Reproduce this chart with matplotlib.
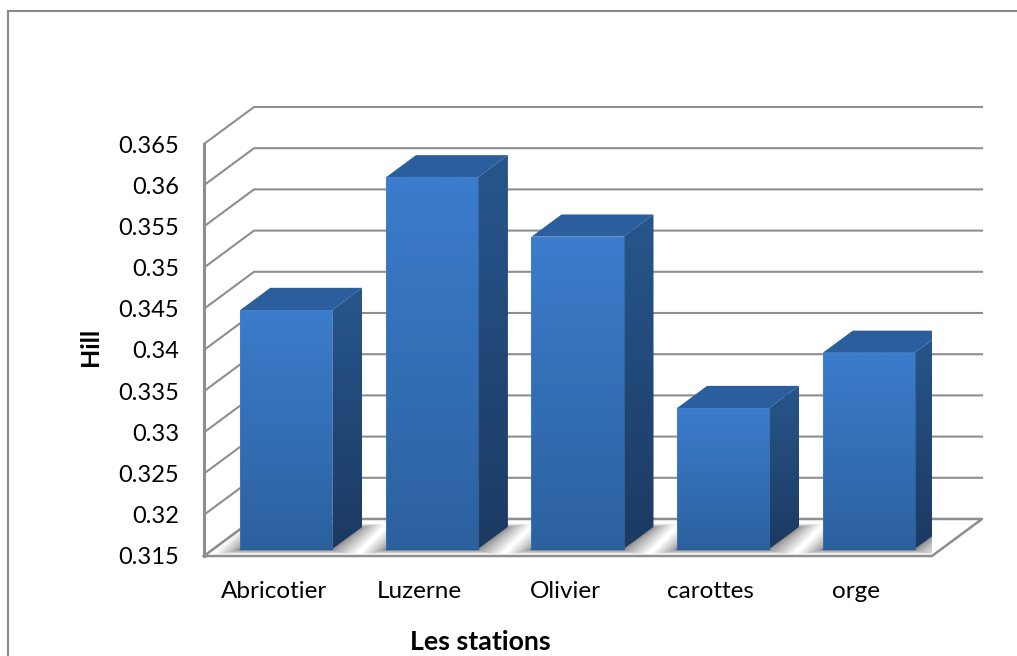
import numpy as np
import matplotlib
matplotlib.use('Agg')
import matplotlib.pyplot as plt
from matplotlib.lines import Line2D
from matplotlib.patches import Polygon
from matplotlib.transforms import Affine2D, IdentityTransform

stations = ['Abricotier', 'Luzerne', 'Olivier', 'carottes', 'orge']
hill = [0.3440, 0.3601, 0.3529, 0.3321, 0.3388]
yticks = [0.315, 0.32, 0.325, 0.33, 0.335, 0.34, 0.345, 0.35, 0.355, 0.36, 0.365]
ylabels = ['0.315', '0.32', '0.325', '0.33', '0.335', '0.34', '0.345', '0.35', '0.355', '0.36', '0.365']

W, H = 1017, 656
DX, DY = 50, 37        # 3d depth of the floor, in pixels
BAR_W = 0.632          # in category units
D0, D1 = 0.19, 0.79    # where the bars sit in the depth
PX = IdentityTransform()

plt.rcParams['font.family'] = ['Lato', 'DejaVu Sans']
fig = plt.figure(figsize=(W / 100, H / 100), dpi=100)
ax = fig.add_axes([204 / W, 1 - 556 / H, (932 - 204) / W, (556 - 144) / H])
ax.patch.set_alpha(0)
for s in ax.spines.values():
    s.set_visible(False)

x0, x1 = -0.5, 4.5
ymin, ymax = yticks[0], yticks[-1]
ax.set_xlim(x0, x1)
ax.set_ylim(ymin, ymax)
ax.set_autoscale_on(False)


def at(d):
    # shift towards the back wall
    return ax.transData + Affine2D().translate(DX * d, DY * d)


def skew_pts(x, y, d):
    # data point -> display point at depth d
    return at(d).transform((x, y))


def gradient(pts, c_top, c_bot, z):
    # vertical colour ramp clipped to a polygon (display coords)
    pts = np.array(pts)
    ramp = np.linspace(0, 1, 64)[:, None, None]
    img = (1 - ramp) * np.array(c_top) + ramp * np.array(c_bot)
    im = ax.imshow(img, aspect='auto', zorder=z, transform=PX,
                   extent=[pts[:, 0].min(), pts[:, 0].max(), pts[:, 1].min(), pts[:, 1].max()],
                   origin='upper', interpolation='bilinear')
    im.set_clip_path(Polygon(pts, closed=True, transform=PX))


def rgb(h):
    return matplotlib.colors.to_rgb(h)


def px_line(xs, ys, **kw):
    ln = Line2D(xs, ys, transform=PX, clip_on=False, **kw)
    ax.add_line(ln)
    return ln


GRID = '#8e8e8e'

# wall and side grid
for v in yticks:
    p0 = skew_pts(x0, v, 0)
    p1 = skew_pts(x0, v, 1)
    p2 = skew_pts(x1, v, 1)
    px_line([p0[0], p1[0], p2[0]], [p0[1], p1[1], p2[1]],
            color=GRID, lw=1.5, zorder=1, solid_joinstyle='miter')

# floor edges
f = [skew_pts(x0, ymin, 0), skew_pts(x1, ymin, 0), skew_pts(x1, ymin, 1), skew_pts(x0, ymin, 1)]
floor = Polygon(f, closed=True, transform=PX, facecolor='white', edgecolor='none', zorder=1.5, clip_on=False)
ax.add_patch(floor)
fx, fy = zip(*(f + [f[0]]))
px_line(fx, fy, color=GRID, lw=1.8, zorder=3.5, solid_joinstyle='miter')
# front left axis line
px_line([f[0][0]] * 2, [f[0][1], skew_pts(x0, ymax, 0)[1]], color=GRID, lw=2.2, zorder=2)

# bars, back parts first
for i, v in enumerate(hill):
    a, b = i - BAR_W / 2, i + BAR_W / 2
    fl, fr = skew_pts(a, ymin, D0), skew_pts(b, ymin, D0)
    bl, br = skew_pts(a, ymin, D1), skew_pts(b, ymin, D1)

    # soft shadow on the floor, stacked so it fades away from the bar
    cx, cy = (fl + br) / 2
    foot = np.array([fl, fr, br, bl])
    for t in np.linspace(0, 1, 18):
        g = 24 * t ** 1.7
        grown = foot + np.sign(foot - [cx, cy]) * [g, min(g * 0.2, 3.5)] + [-1, -1]
        sh = Polygon(grown, closed=True, transform=PX, facecolor='#444444',
                     edgecolor='none', alpha=0.05, zorder=3)
        ax.add_patch(sh)
        sh.set_clip_path(floor)

    tl, tr = skew_pts(a, v, D0), skew_pts(b, v, D0)
    ttl, ttr = skew_pts(a, v, D1), skew_pts(b, v, D1)

    gradient([tl, tr, ttr, ttl], rgb('#2b5f9e'), rgb('#2a5e9c'), 4)
    gradient([fr, br, ttr, tr], rgb('#27568c'), rgb('#1c3a62'), 4)
    gradient([fl, fr, tr, tl], rgb('#3b7ccc'), rgb('#2c619f'), 5)

    # light rim on the edges
    ex, ey = zip(tl, tr, fr, fl, tl)
    px_line(ex, ey, color='#4a86cf', lw=0.8, alpha=0.45, zorder=6)
    px_line([fl[0], fr[0]], [fl[1], fr[1]], color='#2a5a92', lw=1, zorder=6)

ax.set_xticks(range(len(stations)))
ax.set_xticklabels(stations, fontsize=17.5)
ax.set_yticks(yticks)
ax.set_yticklabels(ylabels, fontsize=17, color='black')
ax.tick_params(axis='x', length=0, pad=18, colors='black')
ax.tick_params(axis='y', length=0, pad=18, colors='black')
# the category labels sit a little left of the slot centres
for lab in ax.get_xticklabels():
    lab.set_transform(lab.get_transform() + Affine2D().translate(-3, 0))
ax.set_xlabel('Les stations', fontsize=19.3, fontweight='bold')
ax.xaxis.set_label_coords((480 - 204) / (932 - 204), -(642 - 556) / (556 - 144), transform=ax.transAxes)
ax.xaxis.label.set_verticalalignment('center')
ax.set_ylabel('Hill', fontsize=18, fontweight='bold')
ax.yaxis.set_label_coords(-(204 - 90) / (932 - 204), (556 - 347) / (556 - 144), transform=ax.transAxes)
ax.yaxis.label.set_verticalalignment('center')

# outer chart frame
fig.add_artist(Line2D([7.5 / W, 7.5 / W, 1], [0, 1 - 10.5 / H, 1 - 10.5 / H],
                      transform=fig.transFigure, color='#8a8a8a', lw=1.5, solid_joinstyle='miter'))

fig.savefig('out.png', dpi=100, facecolor='white')
